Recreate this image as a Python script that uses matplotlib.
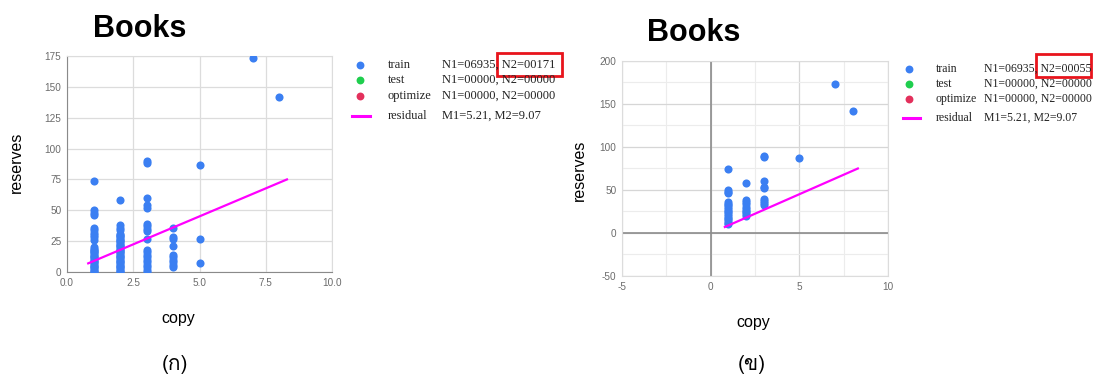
import matplotlib
matplotlib.use("Agg")
import matplotlib.pyplot as plt
from matplotlib import font_manager
from matplotlib.ft2font import FT2Font
from matplotlib.patches import Rectangle
from matplotlib.lines import Line2D

# ---------------- data ----------------
# panel (a): all training points, y-values per copy count
a_x1 = [0, 1, 2, 3, 4, 5, 6, 7, 8, 9, 10, 11, 12, 13, 14, 15, 16, 17, 18, 19, 20,
        26, 28, 30, 32, 34, 36, 46, 48, 50, 74]
a_x2 = [0, 1, 2, 3, 4, 5, 6, 7, 8, 9, 10, 11, 12, 13, 14, 15, 16, 17, 18, 19, 20,
        21, 22, 23, 24, 25, 26, 27, 28, 29, 30, 31, 34, 36, 38, 58]
a_x3 = [0, 2, 4, 6, 8, 10, 12, 14, 16, 18, 27, 33, 35, 37, 39, 52, 54, 60, 88, 90]
a_x4 = [4, 6, 8, 10, 12, 14, 21, 27, 28, 36]
a_x5 = [7, 27, 87]
a_x7 = [173]
a_x8 = [142]

# panel (b): subset of training points
b_x1 = [10, 12, 14, 16, 18, 20, 22, 24, 26, 28, 30, 32, 34, 36, 46, 48, 50, 74]
b_x2 = [20, 22, 24, 26, 28, 30, 34, 36, 38, 58]
b_x3 = [33, 35, 37, 39, 52, 54, 60, 88, 90]
b_x5 = [87]
b_x7 = [173]
b_x8 = [142]

resid_x = [0.8, 8.3]
resid_y = [7, 75]

legend_names = ["train", "test", "optimize", "residual"]
legend_a = ["N1=06935, N2=00171", "N1=00000, N2=00000", "N1=00000, N2=00000", "M1=5.21, M2=9.07"]
legend_b = ["N1=06935, N2=00055", "N1=00000, N2=00000", "N1=00000, N2=00000", "M1=5.21, M2=9.07"]

BLUE = "#3b7ff2"
GREEN = "#1fce4e"
RED = "#e3305c"
MAGENTA = "#ff00ff"


def expand(groups):
    xs, ys = [], []
    for xv, yl in groups:
        xs += [xv] * len(yl)
        ys += list(yl)
    return xs, ys


ax_a_x, ax_a_y = expand([(1, a_x1), (2, a_x2), (3, a_x3), (4, a_x4), (5, a_x5), (7, a_x7), (8, a_x8)])
ax_b_x, ax_b_y = expand([(1, b_x1), (2, b_x2), (3, b_x3), (5, b_x5), (7, b_x7), (8, b_x8)])

# find a font with Thai glyphs
thai_font = None
for f in font_manager.fontManager.ttflist:
    try:
        if FT2Font(f.fname).get_char_index(ord("ก")):
            thai_font = f.name
            break
    except Exception:
        pass
thai_family = [thai_font, "DejaVu Sans"] if thai_font else ["DejaVu Sans"]

plt.rcParams["font.family"] = ["Liberation Sans", "DejaVu Sans"]
plt.rcParams["axes.unicode_minus"] = False

W, H = 1100, 378
fig = plt.figure(figsize=(W / 100, H / 100), dpi=100)
fig.patch.set_facecolor("white")


def px_axes(l, t, r, b):
    return fig.add_axes([l / W, 1 - b / H, (r - l) / W, (b - t) / H])


TICK = dict(labelsize=7.2, labelcolor="#6b6b6b", length=0, pad=4)

# ---- panel (a)
ax1 = px_axes(67, 56, 332, 272)
ax1.scatter(ax_a_x, ax_a_y, s=34, color=BLUE, zorder=3, linewidths=0)
ax1.plot(resid_x, resid_y, color=MAGENTA, lw=1.6, zorder=4)
ax1.set_xlim(0, 10)
ax1.set_ylim(0, 175)
ax1.set_xticks([0, 2.5, 5, 7.5, 10])
ax1.set_xticklabels(["0.0", "2.5", "5.0", "7.5", "10.0"])
ax1.set_yticks(range(0, 176, 25))
ax1.grid(True, color="#dcdcdc", lw=0.9)
ax1.set_axisbelow(True)
for s in ["top", "right"]:
    ax1.spines[s].set_color("#dcdcdc")
for s in ["left", "bottom"]:
    ax1.spines[s].set_color("#8a8a8a")
ax1.tick_params(**TICK)

# ---- panel (b)
ax2 = px_axes(622, 61, 888, 276)
ax2.scatter(ax_b_x, ax_b_y, s=34, color=BLUE, zorder=3, linewidths=0)
ax2.plot(resid_x, resid_y, color=MAGENTA, lw=1.6, zorder=4)
ax2.set_xlim(-5, 10)
ax2.set_ylim(-50, 200)
ax2.set_xticks([-5, 0, 5, 10])
ax2.set_yticks(range(-50, 201, 50))
ax2.set_xticks([-2.5, 2.5, 7.5], minor=True)
ax2.set_yticks(range(-25, 200, 50), minor=True)
ax2.grid(True, which="major", color="#d6d6d6", lw=0.9)
ax2.grid(True, which="minor", color="#ececec", lw=0.8)
ax2.set_axisbelow(True)
ax2.axhline(0, color="#8c8c8c", lw=1.2, zorder=2)
ax2.axvline(0, color="#8c8c8c", lw=1.2, zorder=2)
for s in ax2.spines.values():
    s.set_color("#dcdcdc")
ax2.tick_params(**TICK)
ax2.tick_params(which="minor", length=0)

# ---- overlay for titles, labels, legends
ov = fig.add_axes([0, 0, 1, 1], facecolor="none")
ov.set_xlim(0, W)
ov.set_ylim(H, 0)
ov.axis("off")

ov.text(140, 29, "Books", fontsize=22, fontweight="bold", ha="center", va="center")
ov.text(694, 33, "Books", fontsize=22, fontweight="bold", ha="center", va="center")
ov.text(16, 162, "reserves", fontsize=11.5, rotation=90, ha="center", va="center")
ov.text(579, 170, "reserves", fontsize=11.5, rotation=90, ha="center", va="center")
ov.text(178, 318, "copy", fontsize=11.5, ha="center", va="center")
ov.text(753, 322, "copy", fontsize=11.5, ha="center", va="center")
ov.text(175, 364, "(ก)", fontsize=15, ha="center", va="center", family=thai_family)
ov.text(752, 364, "(ข)", fontsize=15, ha="center", va="center", family=thai_family)

serif = ["Liberation Serif", "DejaVu Serif"]
for (mx, tx, vx, rows, liney, lx0, lx1, texts, box, fs) in [
    (360, 388, 442, [65, 80, 96], 116, 352, 370, legend_a, (497, 53, 562, 76), 9),
    (909, 936, 984, [69, 84, 99], 118, 903, 920, legend_b, (1036, 54, 1091, 77), 8.5),
]:
    for yy, col in zip(rows, [BLUE, GREEN, RED]):
        ov.scatter([mx], [yy], s=32, color=col, linewidths=0)
    ov.add_line(Line2D([lx0, lx1], [liney, liney], color=MAGENTA, lw=2.2))
    for yy, name, val in zip(rows + [liney], legend_names, texts):
        ov.text(tx, yy, name, fontsize=fs, family=serif, ha="left", va="center", color="#222222")
        ov.text(vx, yy, val, fontsize=fs, family=serif, ha="left", va="center", color="#222222")
    bx0, by0, bx1, by1 = box
    ov.add_patch(Rectangle((bx0, by0), bx1 - bx0, by1 - by0, fill=False, ec="#e8141c", lw=2))

fig.savefig("out.png", dpi=100, facecolor="white")
